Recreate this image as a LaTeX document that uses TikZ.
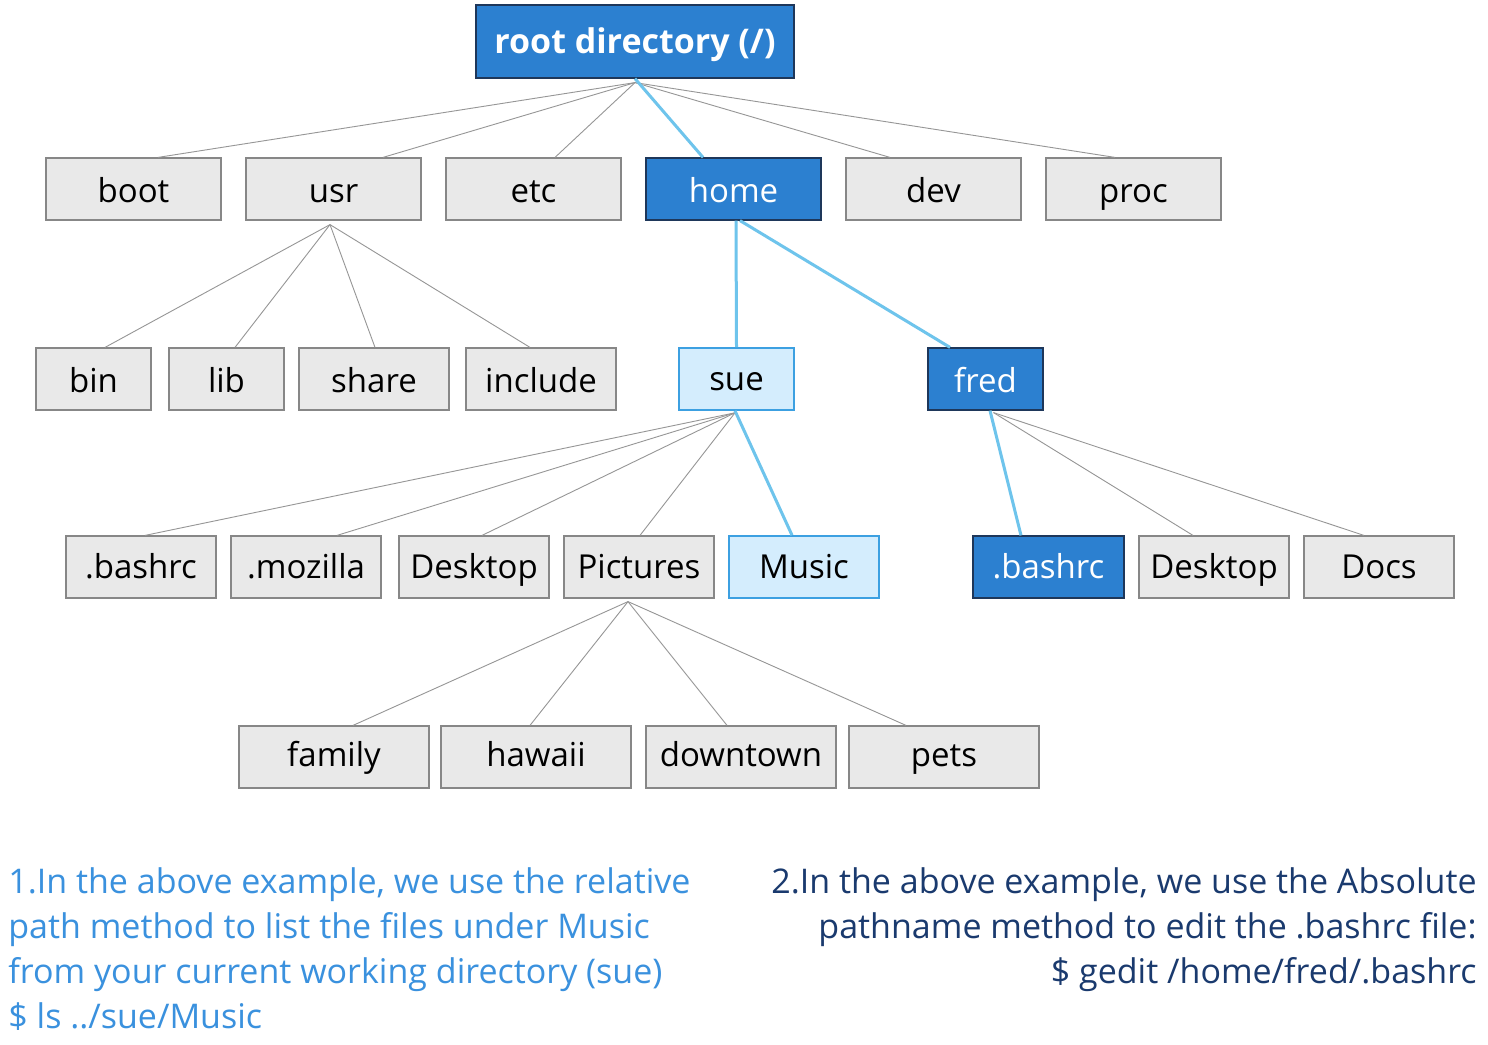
\documentclass[tikz,border=0pt]{standalone}
\usepackage{fontspec}
\setmainfont{Open Sans}
\usetikzlibrary{calc}
\definecolor{dblue}{RGB}{44,128,208}
\definecolor{dborder}{RGB}{30,55,90}
\definecolor{lblue}{RGB}{212,237,253}
\definecolor{lborder}{RGB}{60,160,225}
\definecolor{gfill}{RGB}{233,233,233}
\definecolor{gborder}{RGB}{135,135,135}
\definecolor{bline}{RGB}{110,196,236}
\definecolor{gline}{RGB}{150,150,150}
\definecolor{ltext}{RGB}{58,145,222}
\definecolor{rtext}{RGB}{26,58,110}
\tikzset{
  boxbase/.style={line width=0.6pt, minimum height=31pt, inner sep=0pt, font=\fontsize{16.5}{19}\selectfont},
  gbox/.style={boxbase, draw=gborder, fill=gfill, text=black},
  bbox/.style={boxbase, draw=dborder, fill=dblue, text=white},
  lbox/.style={boxbase, draw=lborder, fill=lblue, line width=0.8pt, text=black},
  rowa/.style={text height=15.5pt, text depth=2pt},
  rowb/.style={text height=15pt, text depth=2pt},
  rowc/.style={text height=14pt, text depth=3pt},
  rowd/.style={text height=13.5pt, text depth=4pt},
  gl/.style={draw=gline, line width=0.45pt},
  bl/.style={draw=bline, line width=1.5pt},
}
\begin{document}
\begin{tikzpicture}[x=0.5pt,y=-0.5pt]
\useasboundingbox (0,0) rectangle (1488,1044);
\fill[white] (0,0) rectangle (1488,1044);
% root
\node[bbox, minimum width=159pt, minimum height=36.5pt, text height=14.5pt, text depth=3pt, font=\fontsize{17}{20}\selectfont\bfseries] (root) at (635,41.5) {root directory (/)};
% row 1
\node[gbox, rowa, minimum width=87.5pt] (boot) at (133.5,189) {boot};
\node[gbox, rowa, minimum width=87.5pt] (usr) at (333.5,189) {usr};
\node[gbox, rowa, minimum width=87.5pt] (etc) at (533.5,189) {etc};
\node[bbox, rowa, minimum width=87.5pt] (home) at (733.5,189) {home};
\node[gbox, rowa, minimum width=87.5pt] (dev) at (933.5,189) {dev};
\node[gbox, rowa, minimum width=87.5pt] (proc) at (1133.5,189) {proc};
% row 2
\node[gbox, rowb, minimum width=57.5pt] (bin) at (93.5,379) {bin};
\node[gbox, rowb, minimum width=57.5pt] (lib) at (226.5,379) {lib};
\node[gbox, rowb, minimum width=75pt] (share) at (374,379) {share};
\node[gbox, rowb, minimum width=75pt] (include) at (541,379) {include};
\node[lbox, rowc, minimum width=57.5pt] (sue) at (736.5,379) {sue};
\node[bbox, rowb, minimum width=57.5pt] (fred) at (985.5,379) {fred};
% row 3
\node[gbox, rowc, minimum width=75pt] (sbashrc) at (141,567) {.bashrc};
\node[gbox, rowc, minimum width=75pt] (mozilla) at (306,567) {.mozilla};
\node[gbox, rowc, minimum width=75pt] (sdesktop) at (474,567) {Desktop};
\node[gbox, rowc, minimum width=75pt] (pictures) at (639,567) {Pictures};
\node[lbox, rowc, minimum width=75pt] (music) at (804,567) {Music};
\node[bbox, rowc, minimum width=75.5pt] (fbashrc) at (1048.5,567) {.bashrc};
\node[gbox, rowc, minimum width=75pt] (fdesktop) at (1214,567) {Desktop};
\node[gbox, rowc, minimum width=75pt] (docs) at (1379,567) {Docs};
% row 4
\node[gbox, rowd, minimum width=95pt] (family) at (334,757) {family};
\node[gbox, rowd, minimum width=95pt] (hawaii) at (536,757) {hawaii};
\node[gbox, rowd, minimum width=95pt] (downtown) at (741,757) {downtown};
\node[gbox, rowd, minimum width=95pt] (pets) at (944,757) {pets};
% connectors root
\draw[gl] ([yshift=-2pt]root.south) -- ([xshift=12.25pt]boot.north);
\draw[gl] ([yshift=-2pt]root.south) -- ([xshift=24.75pt]usr.north);
\draw[gl] ([yshift=-2pt]root.south) -- ([xshift=10.75pt]etc.north);
\draw[gl] ([yshift=-2pt]root.south) -- ([xshift=-21.75pt]dev.north);
\draw[gl] ([yshift=-2pt]root.south) -- ([xshift=-9.25pt]proc.north);
\draw[bl] (root.south) -- ([xshift=-15.25pt]home.north);
% usr
\draw[gl] ([xshift=-1.75pt,yshift=-2pt]usr.south) -- ([xshift=5.75pt]bin.north);
\draw[gl] ([xshift=-1.75pt,yshift=-2pt]usr.south) -- ([xshift=4.25pt]lib.north);
\draw[gl] ([xshift=-1.75pt,yshift=-2pt]usr.south) -- ([xshift=0.5pt]share.north);
\draw[gl] ([xshift=-1.75pt,yshift=-2pt]usr.south) -- ([xshift=-5.5pt]include.north);
% home
\draw[bl] ([xshift=1.25pt]home.south) -- (sue.north);
\draw[bl] ([xshift=3.25pt]home.south) -- ([xshift=-17.75pt]fred.north);
% sue
\draw[gl] ([xshift=-0.75pt,yshift=-1pt]sue.south) -- ([xshift=2pt]sbashrc.north);
\draw[gl] ([xshift=-0.75pt,yshift=-1pt]sue.south) -- ([xshift=15.5pt]mozilla.north);
\draw[gl] ([xshift=-0.75pt,yshift=-1pt]sue.south) -- ([xshift=4pt]sdesktop.north);
\draw[gl] ([xshift=-0.75pt,yshift=-1pt]sue.south) -- ([xshift=0.5pt]pictures.north);
\draw[bl] ([xshift=-0.75pt]sue.south) -- ([xshift=-6pt]music.north);
% fred
\draw[bl] ([xshift=2.25pt]fred.south) -- ([xshift=-13.75pt]fbashrc.north);
\draw[gl] ([xshift=4pt,yshift=-1pt]fred.south) -- ([xshift=-10.5pt]fdesktop.north);
\draw[gl] ([xshift=4pt,yshift=-1pt]fred.south) -- ([xshift=-7.5pt]docs.north);
% pictures
\draw[gl] ([xshift=-5.5pt,yshift=-1.5pt]pictures.south) -- ([xshift=9.5pt]family.north);
\draw[gl] ([xshift=-5.5pt,yshift=-1.5pt]pictures.south) -- ([xshift=-3pt]hawaii.north);
\draw[gl] ([xshift=-5.5pt,yshift=-1.5pt]pictures.south) -- ([xshift=-7pt]downtown.north);
\draw[gl] ([xshift=-5.5pt,yshift=-1.5pt]pictures.south) -- ([xshift=-19pt]pets.north);
% texts
\node[anchor=north west, inner sep=0pt, align=left, text=ltext, font=\fontsize{17}{22.5}\selectfont] (lefttext) at (8,867)
 {1.In the above example, we use the relative\\path method to list the files under Music\\from your current working directory (sue)\\\$ ls ../sue/Music};
\node[anchor=north east, inner sep=0pt, align=right, text=rtext, font=\fontsize{17}{22.5}\selectfont] (righttext) at (1477,867)
 {2.In the above example, we use the Absolute\\pathname method to edit the .bashrc file:\\\$ gedit /home/fred/.bashrc};
\end{tikzpicture}
\end{document}
